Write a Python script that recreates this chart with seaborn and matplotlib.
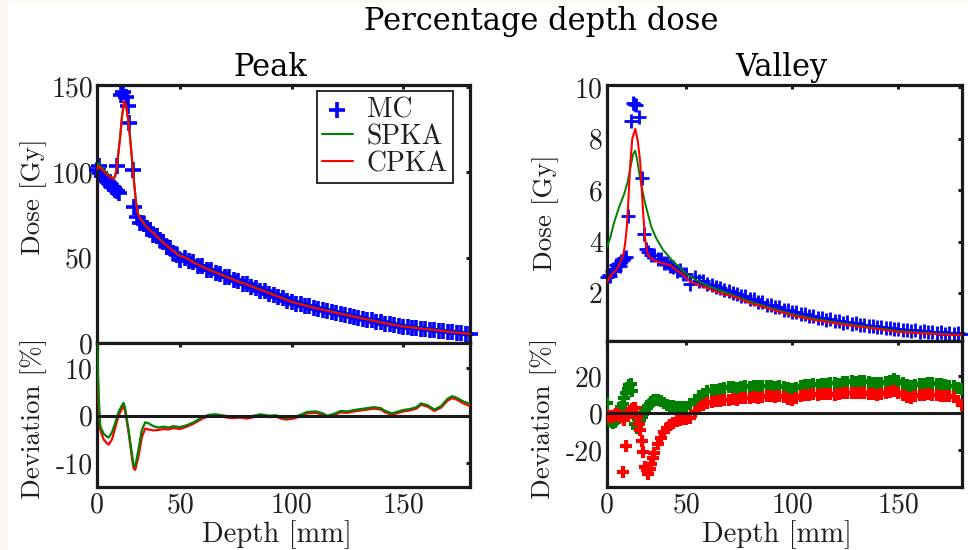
import numpy as np
import matplotlib
matplotlib.use("Agg")
import matplotlib.pyplot as plt
import seaborn as sns
from matplotlib.patches import Rectangle

# ---------------- data ----------------
# Peak: Monte Carlo points
peak_mc_depth = list(range(0, 14)) + [12, 14.5, 15.5, 17.5, 18.5, 19.3, 21.7, 22.3, 24.1] + list(range(26, 181, 2))
peak_mc_dose = [101.5, 103.5, 99.5, 98.0, 97.5, 95.5, 95.0, 93.5, 93.0, 91.5, 90.5, 89.5, 89.0, 88.0,
                103.5, 145.0, 147.0, 144.0, 139.0, 129.0, 101.0, 79.5, 74.0,
                70.4, 69.8, 67.1, 66.3, 63.5, 62.8, 60.0, 59.1, 56.2, 55.4,
                52.9, 51.6, 48.6, 49.9, 47.8, 47.3, 45.1, 44.8, 42.9, 42.6,
                40.7, 40.4, 38.6, 38.4, 36.7, 36.3, 34.6, 34.3, 32.7, 32.3,
                30.7, 30.3, 28.8, 28.3, 26.8, 26.2, 24.8, 24.1, 23.0, 22.7,
                21.6, 21.4, 20.3, 20.1, 19.1, 18.9, 17.9, 17.7, 16.8, 16.6,
                15.8, 15.5, 14.6, 14.3, 13.4, 13.2, 12.3, 12.1, 11.3, 11.1,
                10.3, 10.1, 9.4, 9.4, 8.8, 8.8, 8.2, 8.2, 7.6, 7.6,
                7.0, 7.0, 6.4, 6.4, 5.9, 5.8, 5.4, 5.5]

# Peak: kernel calculations
peak_line_depth = [0, 0.6, 2, 4, 6, 8, 10, 11, 12, 13, 14, 15, 16.3, 17.5, 18.7, 19.9, 21.1, 22.3,
                   23.5, 24.5, 25.5, 27, 30, 35, 40, 45, 50, 52, 55, 60, 65, 70, 75, 80, 85, 90,
                   95, 100, 105, 110, 115, 120, 125, 130, 135, 140, 145, 150, 155, 160, 165, 170, 175, 180]
peak_spka = [103.0, 105.0, 103.5, 101.5, 99.5, 97.5, 96.5, 98.0, 104.5, 112.5, 121.5, 132.5, 141.0,
             138.5, 131.0, 120.5, 107.5, 94.5, 82.5, 76.5, 73.8, 71.8, 67.8, 63.4, 58.8, 54.5, 51.0,
             50.4, 48.0, 44.7, 41.9, 39.3, 36.7, 34.3, 31.8, 29.3, 26.8, 24.2, 22.5, 20.8, 19.3,
             17.8, 16.5, 15.0, 13.6, 12.2, 11.0, 9.8, 9.1, 8.3, 7.6, 6.8, 6.1, 5.5]
peak_cpka = [101.5, 103.5, 102.5, 100.5, 98.5, 97.0, 96.0, 97.5, 104.0, 112.0, 121.0, 132.0, 141.5,
             139.0, 131.0, 120.0, 107.0, 94.0, 82.0, 76.0, 73.5, 71.5, 67.6, 63.2, 58.6, 54.3, 50.8,
             50.2, 47.8, 44.5, 41.7, 39.1, 36.5, 34.1, 31.6, 29.1, 26.6, 24.0, 22.3, 20.6, 19.1,
             17.6, 16.3, 14.8, 13.4, 12.0, 10.8, 9.6, 8.9, 8.1, 7.4, 6.6, 5.9, 5.3]

# Peak: deviation [%]
peak_dev_depth = [0, 1, 2, 4, 6, 7, 9, 11, 13, 15, 16, 17, 19, 21, 22, 23, 25, 27, 29, 31,
                  34, 37, 40, 43, 46, 50, 53, 56, 60, 63, 66, 70, 73, 77, 80, 83, 86, 90, 93, 96,
                  98, 101, 104, 107, 111, 114, 116, 119, 122, 125, 128, 131, 134, 137, 140, 142,
                  145, 148, 150, 153, 156, 158, 161, 164, 167, 170, 172, 174, 177, 180]
peak_dev_spka = [16, 4, -2.3, -3.8, -4.4, -4.6, -3.5, -1.5, 0.8, 2.2, 2.7, 1.5, -3, -8, -10.4, -10.7,
                 -7, -3, -1.4, -1.6, -2.2, -2.5, -2.3, -2.5, -2.2, -2.4, -2.0, -1.4, -0.3, 0.2,
                 0.3, 0.0, -0.2, -0.1, -0.3, 0.0, 0.3, 0.0, 0.1, -0.4, -0.5, -0.3, 0.2, 0.8, 0.9,
                 0.5, 0.0, 0.4, 1.0, 0.9, 1.2, 1.4, 1.6, 1.8, 1.6, 1.0, 0.5, 0.9, 1.2, 1.4,
                 1.8, 2.6, 2.2, 1.3, 2.0, 3.6, 4.1, 3.8, 3.0, 2.5]
peak_dev_cpka = [14, 2, -3.0, -5.0, -5.8, -6.1, -5.0, -2.5, 0.0, 1.5, 2.0, 0.8, -3.5, -8.8, -11.0, -11.4,
                 -8.5, -4.5, -2.7, -2.9, -3.1, -3.0, -2.8, -2.9, -2.6, -2.8, -2.3, -1.7, -0.6, -0.1,
                 0.0, -0.3, -0.5, -0.4, -0.6, -0.3, 0.0, -0.3, -0.2, -0.7, -0.8, -0.6, -0.1, 0.5, 0.6,
                 0.2, -0.3, 0.1, 0.7, 0.6, 0.9, 1.1, 1.3, 1.5, 1.3, 0.7, 0.2, 0.6, 0.9, 1.1,
                 1.5, 2.3, 1.9, 1.0, 1.7, 3.2, 3.7, 3.4, 2.6, 2.0]

# Valley: Monte Carlo points
valley_mc_depth = list(range(0, 13)) + [13, 15, 16.2, 16.9, 18.4, 20.3, 22.2, 23.5, 24.8] + list(range(26, 181, 2))
valley_mc_dose = [2.62, 2.72, 2.68, 2.85, 2.95, 2.90, 3.08, 3.12, 3.05, 3.25, 3.30, 3.36, 3.40,
                  4.98, 8.70, 9.38, 9.35, 9.32, 8.84, 6.47, 4.30, 3.70,
                  3.62, 3.50, 3.48, 3.33, 3.32, 3.18, 3.17, 3.04, 3.02, 2.88,
                  2.89, 2.76, 2.76, 2.36, 2.62, 2.49, 2.47, 2.35, 2.34, 2.23,
                  2.22, 2.11, 2.10, 2.00, 1.99, 1.89, 1.88, 1.78, 1.76, 1.67,
                  1.66, 1.56, 1.55, 1.46, 1.45, 1.36, 1.35, 1.27, 1.26, 1.18,
                  1.18, 1.11, 1.11, 1.04, 1.05, 0.98, 0.99, 0.92, 0.93, 0.86,
                  0.88, 0.81, 0.83, 0.76, 0.78, 0.72, 0.74, 0.68, 0.70, 0.64,
                  0.66, 0.60, 0.63, 0.57, 0.59, 0.54, 0.56, 0.51, 0.53, 0.48,
                  0.51, 0.46, 0.49, 0.44, 0.47, 0.42, 0.45, 0.41]

# Valley: kernel calculations
valley_spka_depth = [0, 2, 4.5, 7.7, 10.9, 13, 15.2, 16.5, 17.8, 19, 20.5, 22, 23.7, 26, 28, 31, 35.5,
                     41.9, 46, 50, 55, 60, 65, 70, 73, 80, 90, 100, 110, 120, 130, 140, 150, 160, 170, 180]
valley_spka = [3.8, 4.15, 4.75, 5.35, 5.86, 6.3, 7.0, 7.4, 7.53, 7.2, 6.63, 6.1, 5.6, 5.05, 4.58, 4.15,
               3.68, 3.23, 3.0, 2.75, 2.5, 2.3, 2.14, 2.0, 1.9, 1.68, 1.43, 1.19, 1.02, 0.88, 0.76,
               0.65, 0.54, 0.48, 0.43, 0.39]
valley_cpka_depth = [0, 2, 4, 6.2, 8, 10.5, 11.5, 12.6, 13.6, 14.7, 16, 17.9, 19.5, 21, 22, 23, 24, 25,
                     26, 28, 30, 33, 36, 40, 42, 45, 47, 50, 52, 55, 60, 63, 67, 73, 80, 90, 100, 110,
                     120, 130, 140, 150, 160, 170, 180]
valley_cpka = [2.42, 2.65, 2.8, 2.93, 3.15, 3.55, 3.95, 4.6, 5.7, 7.0, 8.0, 8.38, 7.9, 7.1, 6.0, 5.0,
               4.2, 3.7, 3.5, 3.35, 3.28, 3.2, 3.15, 3.1, 2.98, 2.85, 2.78, 2.6, 2.45, 2.35, 2.2, 2.1,
               1.98, 1.85, 1.62, 1.38, 1.14, 0.97, 0.84, 0.72, 0.62, 0.5, 0.45, 0.41, 0.37]

# Valley: deviation [%]
valley_dev_depth = list(range(0, 31)) + list(range(32, 181, 2))
valley_dev_spka = [5.5, -3, -4.5, -5, -5.5, -5, -4, -2, 0.5, 3.5, 5, 8, 11, 13, 15, 16, 12, -1, -6, -8,
                   -5, -3.5, -2, -0.5, 1, 2.5, 4, 5, 6, 6.5, 7.0,
                   7.3, 6.3, 5.2, 4.5, 4.0, 3.8, 3.5, 3.3, 3.3, 3.5,
                   5.0, 7.0, 9.0, 10.5, 11.8, 12.3, 12.6, 12.8, 13.5, 14.0,
                   14.2, 13.8, 14.3, 14.5, 14.2, 14.8, 14.4, 14.6, 14.5, 14.9,
                   14.3, 14.7, 14.2, 13.6, 12.8, 13.5, 14.8, 15.4, 15.2, 15.6,
                   15.3, 15.8, 16.0, 16.2, 16.4, 16.0, 16.6, 16.9, 17.2, 17.0,
                   17.3, 17.1, 16.8, 16.5, 16.2, 16.4, 17.0, 17.6, 18.2, 17.5,
                   16.2, 15.0, 14.6, 15.2, 15.8, 16.0, 16.3, 16.4, 15.8, 15.5,
                   15.0, 14.6, 14.5, 13.8, 12.8]
valley_dev_cpka = [-1, -1.5, -2, -2, -1.5, -1, -0.5, -1, -1.5, -2, -32, -3.6, -18, -1, 0, 1, 2, 2.7, 2.7,
                   -2, -6, -9.1, -15, -20.9, -29, -31, -32.7, -30, -27.3, -24.5, -21.5,
                   -17, -13.5, -10.5, -8, -6.4, -5.2, -4.4, -3.6, -3.2, -3.0,
                   -2.6, 0.5, 2.5, 4.2, 5.4, 6.0, 6.5, 6.8, 7.2, 7.3,
                   7.5, 7.2, 8.0, 8.3, 8.1, 8.7, 8.4, 8.9, 9.1, 9.3,
                   8.7, 9.1, 8.5, 7.8, 7.3, 7.9, 9.2, 10.0, 9.7, 10.1,
                   9.8, 10.2, 10.3, 10.5, 10.0, 10.2, 10.6, 10.9, 11.0, 10.8,
                   10.9, 10.7, 10.5, 10.2, 10.0, 10.3, 10.8, 11.4, 11.8, 11.0,
                   9.8, 8.6, 8.2, 9.0, 9.6, 9.9, 10.1, 10.0, 9.6, 9.3,
                   9.0, 9.1, 8.5, 6.5, 4.5]

depth_ticks = [0, 50, 100, 150]

# ---------------- style ----------------
sns.set_theme(style="white")
plt.rcParams.update({
    "font.family": ["cmr10", "DejaVu Serif"],
    "axes.unicode_minus": False,
    "axes.formatter.use_mathtext": True,
    "mathtext.fontset": "cm",
})

BLUE, GREEN, RED = "#0000ff", "#008000", "#ff0000"
TXT = "#1e1e1e"
K = 0.745  # the first 50 mm of the depth axis are drawn compressed in the original


def fwd(x):
    x = np.asarray(x, dtype=float)
    return np.where(x < 50, x * K, 50 * K + (x - 50))


def inv(u):
    u = np.asarray(u, dtype=float)
    return np.where(u < 50 * K, u / K, u - 50 * K + 50)


def frame(ax, yticks, ylim, show_x):
    ax.set_xscale("function", functions=(fwd, inv))
    ax.set_xlim(0, 180)
    ax.set_ylim(*ylim)
    ax.set_xticks(depth_ticks, [str(t) for t in depth_ticks] if show_x else [])
    ax.set_yticks(yticks, [str(t) for t in yticks])
    ax.minorticks_off()
    ax.tick_params(direction="in", length=3, width=2.2, top=True, right=True,
                   labelsize=20, colors="k", labelcolor=TXT)
    ax.tick_params(axis="x", pad=4)
    ax.tick_params(axis="y", pad=3)
    for sp in ax.spines.values():
        sp.set_linewidth(2.3)
        sp.set_color("k")
    ax.set_xlabel("")
    ax.set_ylabel("")
    ax.set_facecolor("white")


fig = plt.figure(figsize=(9.68, 5.5), dpi=100)
fig.patch.set_facecolor("#fcf8f1")
fig.patches.append(Rectangle((8 / 968, 0), 1, 1 - 3 / 550, transform=fig.transFigure,
                             facecolor="white", edgecolor="none", zorder=-10))

ax_pk = fig.add_axes([97 / 968, 207 / 550, 373 / 968, 258 / 550])
ax_pkd = fig.add_axes([97 / 968, 63 / 550, 373 / 968, 144 / 550])
ax_vl = fig.add_axes([607 / 968, 209 / 550, 355 / 968, 256 / 550])
ax_vld = fig.add_axes([607 / 968, 63 / 550, 355 / 968, 146 / 550])

# Peak dose
sns.scatterplot(x=peak_mc_depth, y=peak_mc_dose, marker="+", s=140, color=BLUE, linewidth=2.6,
                ax=ax_pk, clip_on=False, label="MC", zorder=2)
sns.lineplot(x=peak_line_depth, y=peak_spka, color=GREEN, lw=1.5, sort=False, estimator=None,
             ax=ax_pk, label="SPKA", zorder=3)
sns.lineplot(x=peak_line_depth, y=peak_cpka, color=RED, lw=1.5, sort=False, estimator=None,
             ax=ax_pk, label="CPKA", zorder=4)

# Peak deviation
sns.lineplot(x=peak_dev_depth, y=peak_dev_cpka, color=RED, lw=1.6, sort=False, estimator=None,
             ax=ax_pkd, zorder=3)
sns.lineplot(x=peak_dev_depth, y=peak_dev_spka, color=GREEN, lw=1.6, sort=False, estimator=None,
             ax=ax_pkd, zorder=4)

# Valley dose
sns.scatterplot(x=valley_mc_depth, y=valley_mc_dose, marker="+", s=110, color=BLUE, linewidth=2.0,
                ax=ax_vl, clip_on=False, zorder=2)
sns.lineplot(x=valley_spka_depth, y=valley_spka, color=GREEN, lw=1.4, sort=False, estimator=None,
             ax=ax_vl, zorder=3)
sns.lineplot(x=valley_cpka_depth, y=valley_cpka, color=RED, lw=1.5, sort=False, estimator=None,
             ax=ax_vl, zorder=4)

# Valley deviation
sns.scatterplot(x=valley_dev_depth, y=valley_dev_spka, marker="+", s=65, color=GREEN, linewidth=3.0,
                ax=ax_vld, zorder=3)
sns.scatterplot(x=valley_dev_depth, y=valley_dev_cpka, marker="+", s=65, color=RED, linewidth=3.0,
                ax=ax_vld, zorder=4)

for ax in (ax_pkd, ax_vld):
    ax.axhline(0, color="k", lw=2.2, zorder=5)

frame(ax_pk, [0, 50, 100, 150], (0, 151), False)
frame(ax_pkd, [-10, 0, 10], (-15, 15.3), True)
frame(ax_vl, [2, 4, 6, 8, 10], (0.15, 10.08), False)
frame(ax_vld, [-20, 0, 20], (-40, 39), True)

if ax_vl.get_legend():
    ax_vl.get_legend().remove()
leg = ax_pk.legend(loc="upper right", bbox_to_anchor=(0.955, 0.975), fontsize=20, frameon=True,
                   fancybox=False, framealpha=1, edgecolor="k", handlelength=1.1,
                   handletextpad=0.5, labelspacing=0.02, borderpad=0.2, borderaxespad=0)
leg.get_frame().set_linewidth(1.3)
for t in leg.get_texts():
    t.set_color(TXT)

# axis labels
lab = dict(color=TXT, fontsize=19.5, ha="center", va="center")
fig.text(34 / 968, 1 - 197 / 550, "Dose [Gy]", rotation=90, **lab)
fig.text(34 / 968, 1 - 418 / 550, "Deviation [%]", rotation=90, **lab)
fig.text(546 / 968, 1 - 213 / 550, "Dose [Gy]", rotation=90, **lab)
fig.text(544 / 968, 1 - 418 / 550, "Deviation [%]", rotation=90, **lab)
xlab = dict(lab, fontsize=20.5)
fig.text(277 / 968, 1 - 535 / 550, "Depth [mm]", **xlab)
fig.text(777 / 968, 1 - 535 / 550, "Depth [mm]", **xlab)

# titles
ttl = dict(family="DejaVu Serif", fontsize=22, color="black", ha="center", va="baseline")
fig.text(541 / 968, 1 - 30 / 550, "Percentage depth dose", **ttl)
fig.text(270 / 968, 1 - 76 / 550, "Peak", **ttl)
fig.text(781 / 968, 1 - 76 / 550, "Valley", **ttl)

fig.savefig("out.png", dpi=100, facecolor=fig.get_facecolor())
